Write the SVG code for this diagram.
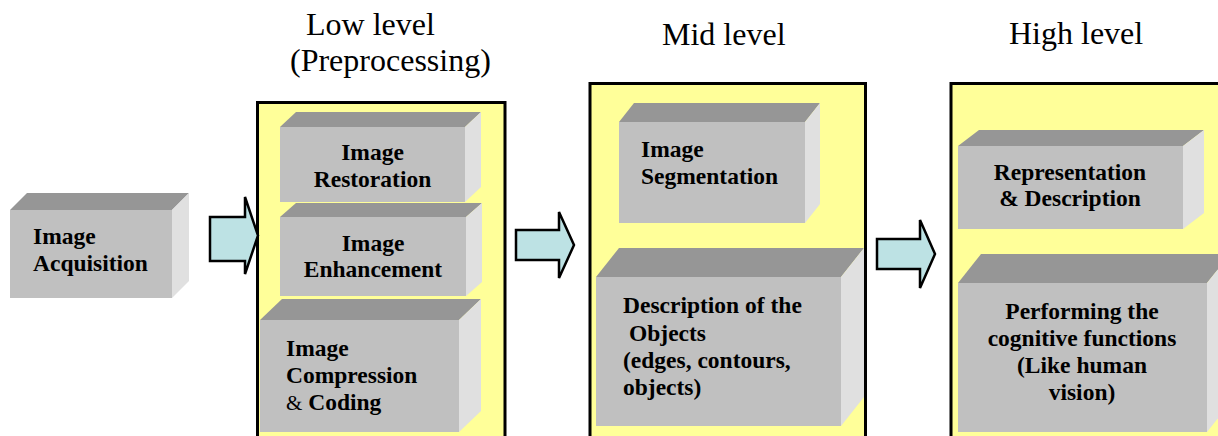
<svg xmlns="http://www.w3.org/2000/svg" width="1218" height="436" viewBox="0 0 1218 436">
<style>
.panel{fill:#FFFF99;stroke:#000;stroke-width:3}
.front{fill:#C0C0C0}
.top{fill:#969696}
.side{fill:#E0E0E0}
.lbl{font-family:'Liberation Serif',Tinos,'Times New Roman','DejaVu Serif',serif;font-weight:bold;font-size:23.5px;fill:#000}
.amp{font-weight:normal;font-size:21px}
.mid{text-anchor:middle}
.title{font-family:'Liberation Serif',Tinos,'Times New Roman','DejaVu Serif',serif;font-size:32px;fill:#000}
.arrow{fill:#BDE2E4;stroke:#000;stroke-width:2.5;stroke-linejoin:miter}
</style>
<rect width="1218" height="436" fill="#fff"/>

<g id="titles">
<text class="title" x="306" y="35">Low level</text>
<text class="title" x="290" y="71">(Preprocessing)</text>
<text class="title" x="662" y="45">Mid level</text>
<text class="title" x="1009" y="44">High level</text>
</g>

<g id="panel-low"><rect class="panel" x="257.5" y="102.5" width="247.5" height="345"/></g>
<g id="panel-mid"><rect class="panel" x="590" y="83.5" width="275.5" height="365"/></g>
<g id="panel-high"><rect class="panel" x="951" y="83.5" width="300" height="365"/></g>

<g id="node-acquisition">
<polygon class="top" points="10,210 27,193 189,193 172,210"/>
<polygon class="side" points="172,210 189,193 189,281 172,298"/>
<rect class="front" x="10" y="210" width="162" height="88"/>
<text class="lbl" x="33" y="244">Image</text>
<text class="lbl" x="33" y="271">Acquisition</text>
</g>

<g id="node-restoration">
<polygon class="top" points="280,127 296,112 481,112 465,127"/>
<polygon class="side" points="465,127 481,112 481,187 465,202"/>
<rect class="front" x="280" y="127" width="185" height="75"/>
<text class="lbl mid" x="372.5" y="160">Image</text>
<text class="lbl mid" x="372.5" y="187">Restoration</text>
</g>

<g id="node-enhancement">
<polygon class="top" points="280,217 296,203 482,203 466,217"/>
<polygon class="side" points="466,217 482,203 482,282 466,296"/>
<rect class="front" x="280" y="217" width="186" height="79"/>
<text class="lbl mid" x="373" y="251">Image</text>
<text class="lbl mid" x="373" y="277">Enhancement</text>
</g>

<g id="node-compression">
<polygon class="top" points="260,320 282,299 481,299 459,320"/>
<polygon class="side" points="459,320 481,299 481,411 459,432"/>
<rect class="front" x="260" y="320" width="199" height="112"/>
<text class="lbl" x="286" y="356">Image</text>
<text class="lbl" x="286" y="383">Compression</text>
<text class="lbl" x="286" y="410"><tspan class="amp">&amp;</tspan> Coding</text>
</g>

<g id="node-segmentation">
<polygon class="top" points="619,122 634,103 820,103 805,122"/>
<polygon class="side" points="805,122 820,103 820,204 805,223"/>
<rect class="front" x="619" y="122" width="186" height="101"/>
<text class="lbl" x="641" y="157">Image</text>
<text class="lbl" x="641" y="184">Segmentation</text>
</g>

<g id="node-description">
<polygon class="top" points="596,277 619,248 864,248 841,277"/>
<polygon class="side" points="841,277 864,248 864,397 841,426"/>
<rect class="front" x="596" y="277" width="245" height="149"/>
<text class="lbl" x="623" y="313">Description of the</text>
<text class="lbl" x="629" y="341">Objects</text>
<text class="lbl" x="623" y="368">(edges, contours,</text>
<text class="lbl" x="623" y="395">objects)</text>
</g>

<g id="node-representation">
<polygon class="top" points="958,146 979,130 1204,130 1183,146"/>
<polygon class="side" points="1183,146 1204,130 1204,213 1183,229"/>
<rect class="front" x="958" y="146" width="225" height="83"/>
<text class="lbl mid" x="1070" y="180">Representation</text>
<text class="lbl mid" x="1070" y="206">&amp; Description</text>
</g>

<g id="node-performing">
<polygon class="top" points="958,283 981,254 1230,254 1207,283"/>
<polygon class="side" points="1207,283 1230,254 1230,403 1207,432"/>
<rect class="front" x="958" y="283" width="249" height="149"/>
<text class="lbl mid" x="1082" y="319">Performing the</text>
<text class="lbl mid" x="1082" y="346">cognitive functions</text>
<text class="lbl mid" x="1082" y="373">(Like human</text>
<text class="lbl mid" x="1082" y="400">vision)</text>
</g>

<g id="connectors">
<polygon class="arrow" points="210,217 245,217 245,197 258,235.5 245,274 245,261 210,261"/>
<polygon class="arrow" points="516,230 559,230 559,212 574,245 559,278 559,260 516,260"/>
<polygon class="arrow" points="877,239 920,239 920,220 935,254 920,288 920,269 877,269"/>
</g>
</svg>
